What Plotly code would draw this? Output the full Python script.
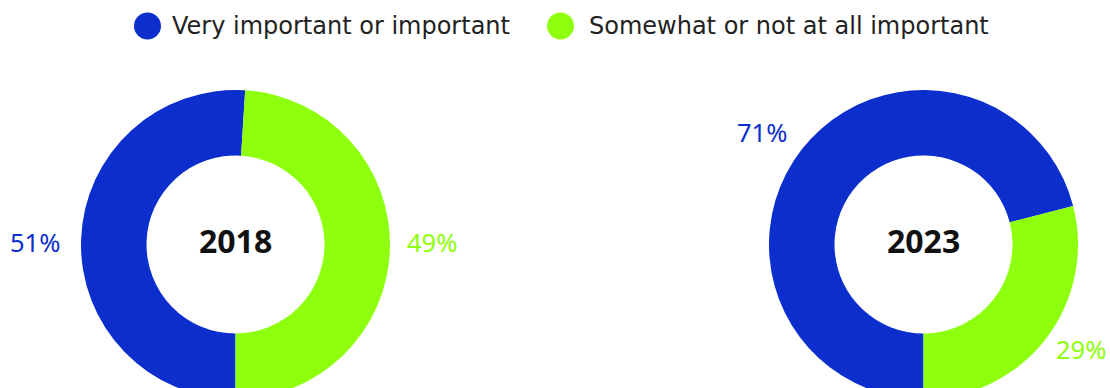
import plotly.graph_objects as go

categories = ["Very important or important", "Somewhat or not at all important"]
years = ["2018", "2023"]
values_2018 = [51, 49]
values_2023 = [71, 29]
colors = ["#0B2ECD", "#8EFF0C"]

W, H = 1110, 400
FONT = "Noto Sans"
LEGEND_FONT = "DejaVu Sans"

fig = go.Figure()

pie_domains = [
    dict(x=[81 / W, 390 / W], y=[1 - 399 / H, 1 - 90 / H]),
    dict(x=[769 / W, 1078 / W], y=[1 - 399 / H, 1 - 90 / H]),
]

for yr, vals, dom in zip(years, [values_2018, values_2023], pie_domains):
    fig.add_trace(go.Pie(
        labels=categories,
        values=vals,
        hole=0.576,
        sort=False,
        direction="clockwise",
        rotation=180,
        marker=dict(colors=colors, line=dict(width=0)),
        textinfo="none",
        hoverinfo="label+percent",
        showlegend=False,
        domain=dom,
    ))

annotations = []
# centre year labels
centres = [235.5, 923.5]
for yr, cx in zip(years, centres):
    annotations.append(dict(
        text=f"<b>{yr}</b>", x=cx / W, y=1 - 240 / H, xref="paper", yref="paper",
        xanchor="center", yanchor="middle", showarrow=False,
        font=dict(family=FONT, size=32, color="#111111"),
    ))

# percentage labels
label_pos = [
    [(35, 242), (431.5, 242)],
    [(762, 132), (1080.5, 349)],
]
for vals, positions in zip([values_2018, values_2023], label_pos):
    for v, (px, py), c in zip(vals, positions, colors):
        annotations.append(dict(
            text=f"{v}%", x=px / W, y=1 - py / H, xref="paper", yref="paper",
            xanchor="center", yanchor="middle", showarrow=False,
            font=dict(family=FONT, size=25.5, color=c),
        ))

# legend (circles + labels)
shapes = []
legend_items = [(147.5, 170), (560.5, 587)]
for cat, c, (cx, tx) in zip(categories, colors, legend_items):
    r = 13.5
    cy = 26
    shapes.append(dict(type="circle", xref="paper", yref="paper",
                       x0=(cx - r) / W, x1=(cx + r) / W,
                       y0=1 - (cy + r) / H, y1=1 - (cy - r) / H,
                       fillcolor=c, line=dict(width=0)))
    annotations.append(dict(
        text=cat, x=tx / W, y=1 - cy / H, xref="paper", yref="paper",
        xanchor="left", yanchor="middle", showarrow=False,
        font=dict(family=LEGEND_FONT, size=24, color="#222222"),
    ))

fig.update_layout(
    width=W, height=H,
    margin=dict(l=0, r=0, t=0, b=0),
    paper_bgcolor="white", plot_bgcolor="white",
    annotations=annotations, shapes=shapes,
)

fig.write_html("out.html", post_script=
    "document.documentElement.style.overflow='hidden';document.body.style.overflow='hidden';document.body.style.margin='0';")
